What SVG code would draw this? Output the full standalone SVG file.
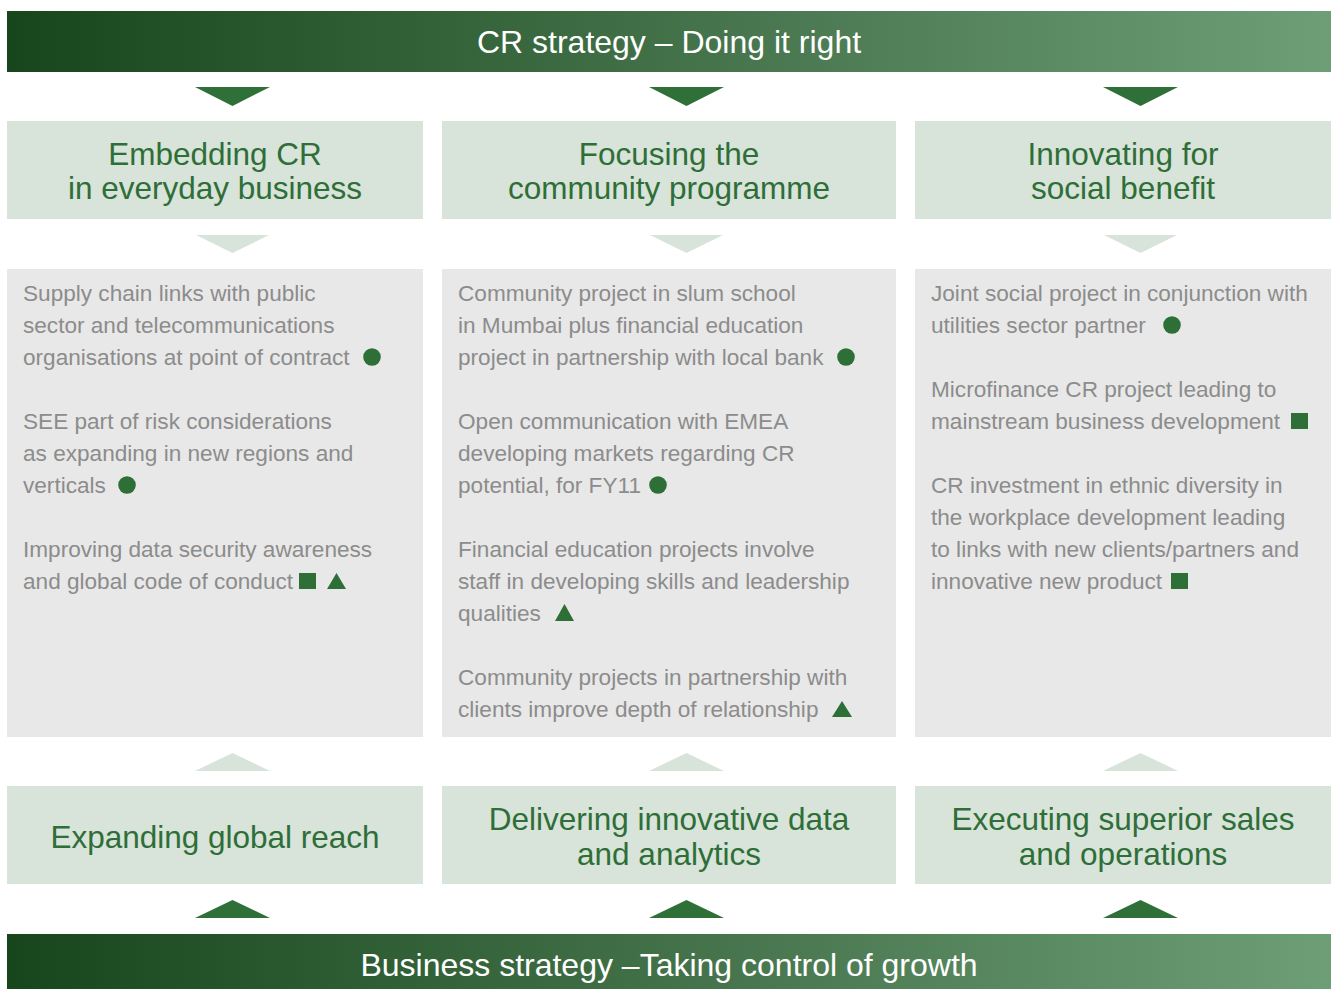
<svg xmlns="http://www.w3.org/2000/svg" width="1336" height="989" viewBox="0 0 1336 989">
<defs>
<linearGradient id="bar" x1="0" y1="0" x2="1" y2="0">
<stop offset="0" stop-color="#17451c"/>
<stop offset="1" stop-color="#6e9e76"/>
</linearGradient>
<style>
.bar{fill:url(#bar)}
.bartxt{font-family:"Liberation Sans",Arial,sans-serif;font-size:32px;fill:#ffffff;text-anchor:middle}
.hbox{fill:#d8e3da}
.cbox{fill:#e8e8e8}
.htxt{font-family:"Liberation Sans",Arial,sans-serif;font-size:31.5px;fill:#2e6e37;text-anchor:middle}
.body{font-family:"Liberation Sans",Arial,sans-serif;font-size:22.6px;fill:#8c8c8c}
.dark{fill:#2f6f38}
.light{fill:#d8e3da}
.mk{fill:#2e6e37}
</style>
</defs>
<rect width="1336" height="989" fill="#ffffff"/>

<g id="cr-strategy">
<rect class="bar" x="7" y="11" width="1324" height="61"/>
<text class="bartxt" x="669" y="53">CR strategy – Doing it right</text>
</g>

<g id="embedding">
<rect class="hbox" x="7" y="121" width="416" height="98"/>
<text class="htxt" x="215" y="165">Embedding CR</text>
<text class="htxt" x="215" y="199">in everyday business</text>
</g>
<g id="focusing">
<rect class="hbox" x="442" y="121" width="454" height="98"/>
<text class="htxt" x="669" y="165">Focusing the</text>
<text class="htxt" x="669" y="199">community programme</text>
</g>
<g id="innovating">
<rect class="hbox" x="915" y="121" width="416" height="98"/>
<text class="htxt" x="1123" y="165">Innovating for</text>
<text class="htxt" x="1123" y="199">social benefit</text>
</g>

<g id="content-1">
<rect class="cbox" x="7" y="269" width="416" height="468"/>
<text class="body" x="23" y="301">Supply chain links with public</text>
<text class="body" x="23" y="333">sector and telecommunications</text>
<text class="body" x="23" y="365">organisations at point of contract</text>
<circle class="mk" cx="372" cy="357" r="8.8"/>
<text class="body" x="23" y="429">SEE part of risk considerations</text>
<text class="body" x="23" y="461">as expanding in new regions and</text>
<text class="body" x="23" y="493">verticals</text>
<circle class="mk" cx="127" cy="485" r="8.8"/>
<text class="body" x="23" y="557">Improving data security awareness</text>
<text class="body" x="23" y="589">and global code of conduct</text>
<rect class="mk" x="299" y="573" width="17" height="16"/>
<polygon class="mk" points="327,589 346,589 336.5,573"/>
</g>

<g id="content-2">
<rect class="cbox" x="442" y="269" width="454" height="468"/>
<text class="body" x="458" y="301">Community project in slum school</text>
<text class="body" x="458" y="333">in Mumbai plus financial education</text>
<text class="body" x="458" y="365">project in partnership with local bank</text>
<circle class="mk" cx="846" cy="357" r="8.8"/>
<text class="body" x="458" y="429">Open communication with EMEA</text>
<text class="body" x="458" y="461">developing markets regarding CR</text>
<text class="body" x="458" y="493">potential, for FY11</text>
<circle class="mk" cx="658" cy="485" r="8.8"/>
<text class="body" x="458" y="557">Financial education projects involve</text>
<text class="body" x="458" y="589">staff in developing skills and leadership</text>
<text class="body" x="458" y="621">qualities</text>
<polygon class="mk" points="555,621 574,621 564.5,604"/>
<text class="body" x="458" y="685">Community projects in partnership with</text>
<text class="body" x="458" y="717">clients improve depth of relationship</text>
<polygon class="mk" points="832,717 852,717 842,701"/>
</g>

<g id="content-3">
<rect class="cbox" x="915" y="269" width="416" height="468"/>
<text class="body" x="931" y="301">Joint social project in conjunction with</text>
<text class="body" x="931" y="333">utilities sector partner</text>
<circle class="mk" cx="1172" cy="325" r="8.8"/>
<text class="body" x="931" y="397">Microfinance CR project leading to</text>
<text class="body" x="931" y="429">mainstream business development</text>
<rect class="mk" x="1291" y="413" width="17" height="16"/>
<text class="body" x="931" y="493">CR investment in ethnic diversity in</text>
<text class="body" x="931" y="525">the workplace development leading</text>
<text class="body" x="931" y="557">to links with new clients/partners and</text>
<text class="body" x="931" y="589">innovative new product</text>
<rect class="mk" x="1171" y="573" width="17" height="16"/>
</g>

<g id="expanding">
<rect class="hbox" x="7" y="786" width="416" height="98"/>
<text class="htxt" x="215" y="848">Expanding global reach</text>
</g>
<g id="delivering">
<rect class="hbox" x="442" y="786" width="454" height="98"/>
<text class="htxt" x="669" y="830">Delivering innovative data</text>
<text class="htxt" x="669" y="865">and analytics</text>
</g>
<g id="executing">
<rect class="hbox" x="915" y="786" width="416" height="98"/>
<text class="htxt" x="1123" y="830">Executing superior sales</text>
<text class="htxt" x="1123" y="865">and operations</text>
</g>

<g id="business-strategy">
<rect class="bar" x="7" y="934" width="1324" height="55"/>
<text class="bartxt" x="669" y="976">Business strategy –Taking control of growth</text>
</g>

<g id="connectors">
<polygon class="dark" points="195,87 270,87 232.5,106"/>
<polygon class="dark" points="649,87 724,87 686.5,106"/>
<polygon class="dark" points="1103,87 1178,87 1140.5,106"/>
<polygon class="light" points="196,235 269,235 232.5,253"/>
<polygon class="light" points="650,235 723,235 686.5,253"/>
<polygon class="light" points="1104,235 1177,235 1140.5,253"/>
<polygon class="light" points="195,771 270,771 232.5,753"/>
<polygon class="light" points="649,771 724,771 686.5,753"/>
<polygon class="light" points="1103,771 1178,771 1140.5,753"/>
<polygon class="dark" points="195,918 270,918 232.5,900"/>
<polygon class="dark" points="649,918 724,918 686.5,900"/>
<polygon class="dark" points="1103,918 1178,918 1140.5,900"/>
</g>
</svg>
